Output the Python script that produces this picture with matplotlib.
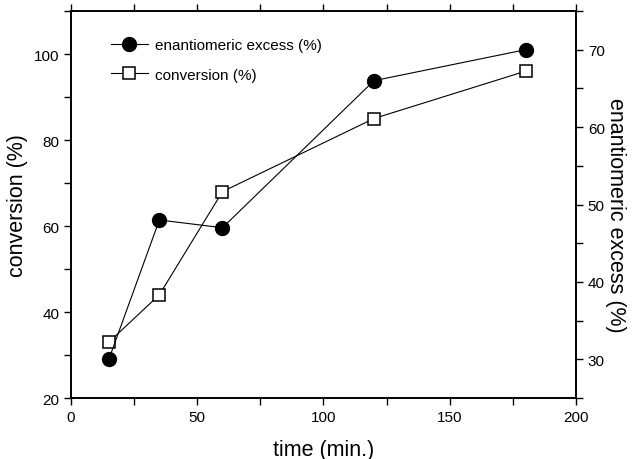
import matplotlib
matplotlib.use('Agg')
import matplotlib.pyplot as plt
from matplotlib.ticker import MultipleLocator

plt.rcParams['font.family'] = ['Liberation Sans', 'DejaVu Sans']

# data
time_min = [15, 35, 60, 120, 180]
conversion = [33, 44, 68, 85, 96]
ee = [30, 48, 47, 66, 70]

fig = plt.figure(figsize=(6.32, 4.6), dpi=100)
ax = fig.add_axes([0.1123, 0.1326, 0.7991, 0.8413])
ax2 = ax.twinx()

l1, = ax2.plot(time_min, ee, color='black', lw=0.8, marker='o', ms=10,
               mfc='black', mec='black', label='enantiomeric excess (%)')
l2, = ax.plot(time_min, conversion, color='black', lw=0.8, marker='s', ms=8,
              mfc='white', mec='black', mew=1.1, label='conversion (%)')

ax.set_xlim(0, 200)
ax.set_ylim(20, 110)
ax2.set_ylim(25, 75)

ax.xaxis.set_major_locator(MultipleLocator(50))
ax.xaxis.set_minor_locator(MultipleLocator(25))
ax.yaxis.set_major_locator(MultipleLocator(20))
ax.yaxis.set_minor_locator(MultipleLocator(10))
ax2.yaxis.set_major_locator(MultipleLocator(10))
ax2.yaxis.set_minor_locator(MultipleLocator(5))

ax.tick_params(axis='both', which='both', direction='out', labelsize=11, width=1, length=5)
ax.tick_params(axis='x', which='both', top=True)
ax2.tick_params(axis='y', which='both', direction='out', labelsize=11, length=5, width=1)

for a in (ax, ax2):
    for s in a.spines.values():
        s.set_linewidth(1.2)

ax.set_xlabel('time (min.)', fontsize=15.5, labelpad=11)
ax.set_ylabel('conversion (%)', fontsize=15.5, labelpad=4)
ax2.set_ylabel('enantiomeric excess (%)', fontsize=15.5, rotation=270, labelpad=15)
ax2.yaxis.label.set_y(0.475)

ax.legend([l1, l2], [l1.get_label(), l2.get_label()], loc='upper left',
          bbox_to_anchor=(0.052, 0.965), frameon=False, fontsize=11,
          handlelength=2.4, handletextpad=0.45, labelspacing=1.0)

fig.savefig('out.png', dpi=100)
